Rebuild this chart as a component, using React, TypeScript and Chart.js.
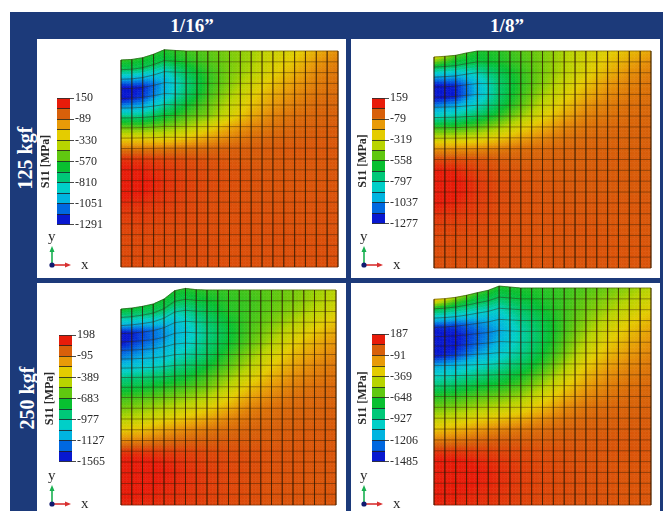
import React, { useEffect, useRef } from "react";
import { Chart, registerables } from "chart.js";

Chart.register(...registerables);

const FONT = '"Liberation Serif", serif';
const NAVY = "#1c3a7a";

// contour levels of the S11 legend, bottom (most compressive) to top
const LEVEL_COLORS = ["#0818d0", "#0068e0", "#00b4e0", "#00cfc8", "#00c878", "#08c030", "#60c810", "#b8d400", "#e4cc00", "#e89a08", "#d8600a", "#e81c0a"];

const LEGEND_125_116 = ["150", "-89", "-330", "-570", "-810", "-1051", "-1291"];
const LEGEND_125_18 = ["159", "-79", "-319", "-558", "-797", "-1037", "-1277"];
const LEGEND_250_116 = ["198", "-95", "-389", "-683", "-977", "-1127", "-1565"];
const LEGEND_250_18 = ["187", "-91", "-369", "-648", "-927", "-1206", "-1485"];

// vertical shift of the top surface at each of the 21 columns (mesh units)
const DENT_125_116 = [-0.83, -0.78, -0.62, -0.3, 0.12, 0.05, 0, 0, 0, 0, 0, 0, 0, 0, 0, 0, 0, 0, 0, 0, 0];
const DENT_125_18 = [-0.55, -0.49, -0.4, -0.18, 0, 0, 0, 0, 0, 0, 0, 0, 0, 0, 0, 0, 0, 0, 0, 0, 0];
const DENT_250_116 = [-1.77, -1.68, -1.52, -1.3, -0.84, -0.06, 0.15, 0.03, 0, 0, 0, 0, 0, 0, 0, 0, 0, 0, 0, 0, 0];
const DENT_250_18 = [-1.04, -0.98, -0.86, -0.67, -0.43, -0.21, 0.18, 0.09, 0, 0, 0, 0, 0, 0, 0, 0, 0, 0, 0, 0, 0];
// how much of that shift each of the 21 rows keeps, top to bottom
const ROW_DECAY = [1, 0.88, 0.74, 0.6, 0.47, 0.35, 0.24, 0.15, 0.08, 0.03, 0, 0, 0, 0, 0, 0, 0, 0, 0, 0, 0];

// S11 in MPa: 21 rows (top to bottom), read at every second mesh column
const S11_125_116 = [
  [-570, -600, -600, -560, -520, -470, -430, -350, -300, -200, -130],
  [-700, -680, -660, -600, -540, -480, -420, -320, -250, -150, -90],
  [-1000, -980, -880, -700, -580, -480, -400, -290, -200, -110, -70],
  [-1290, -1220, -1000, -760, -590, -470, -350, -240, -150, -90, -60],
  [-1280, -1180, -980, -730, -570, -430, -300, -190, -120, -70, -50],
  [-1020, -980, -820, -640, -520, -380, -250, -150, -90, -50, -40],
  [-720, -740, -650, -550, -480, -330, -190, -100, -60, -40, -30],
  [-500, -520, -500, -430, -330, -190, -110, -70, -40, -30, -20],
  [-300, -300, -330, -270, -180, -110, -60, -40, -30, -20, -20],
  [-90, -90, -90, -70, -50, -30, -25, -20, -15, -15, -15],
  [50, 40, 20, 5, -5, -15, -20, -20, -15, -15, -15],
  [100, 80, 45, 20, 5, -5, -10, -15, -15, -15, -15],
  [130, 105, 55, 25, 10, 0, -5, -10, -10, -10, -10],
  [120, 95, 50, 25, 10, 0, -5, -10, -10, -10, -10],
  [70, 60, 40, 20, 5, 0, -5, -5, -5, -5, -5],
  [40, 35, 25, 15, 5, 0, 0, -5, -5, -5, -5],
  [25, 25, 15, 10, 5, 0, 0, 0, -5, -5, -5],
  [15, 15, 10, 5, 5, 0, 0, 0, 0, -5, -5],
  [10, 10, 10, 5, 5, 0, 0, 0, 0, 0, 0],
  [10, 10, 5, 5, 5, 0, 0, 0, 0, 0, 0],
  [10, 10, 5, 5, 5, 5, 0, 0, 0, 0, 0],
];
const S11_125_18 = [
  [-300, -520, -600, -580, -520, -470, -400, -330, -280, -220, -170],
  [-650, -680, -640, -600, -540, -470, -390, -310, -240, -170, -110],
  [-1000, -980, -820, -680, -570, -470, -380, -290, -200, -120, -80],
  [-1270, -1200, -950, -720, -580, -460, -340, -240, -140, -90, -60],
  [-1270, -1210, -970, -720, -560, -420, -300, -190, -110, -70, -50],
  [-1040, -980, -850, -680, -520, -360, -240, -130, -80, -50, -40],
  [-830, -780, -700, -580, -430, -290, -170, -90, -60, -40, -30],
  [-560, -570, -530, -430, -300, -190, -100, -60, -40, -30, -25],
  [-360, -360, -340, -260, -170, -100, -60, -40, -30, -25, -20],
  [-130, -130, -110, -80, -50, -40, -30, -25, -20, -20, -15],
  [20, 15, 5, -10, -20, -20, -20, -20, -15, -15, -15],
  [100, 80, 30, 5, -5, -10, -15, -15, -15, -15, -15],
  [135, 115, 50, 15, 5, -5, -10, -10, -10, -10, -10],
  [145, 115, 55, 20, 5, 0, -5, -10, -10, -10, -10],
  [110, 85, 45, 20, 5, 0, -5, -5, -5, -5, -5],
  [65, 55, 35, 15, 5, 0, 0, -5, -5, -5, -5],
  [40, 35, 25, 10, 5, 0, 0, 0, -5, -5, -5],
  [25, 20, 15, 10, 5, 0, 0, 0, 0, -5, -5],
  [15, 15, 10, 5, 5, 0, 0, 0, 0, 0, 0],
  [10, 10, 10, 5, 5, 0, 0, 0, 0, 0, 0],
  [10, 10, 5, 5, 5, 5, 0, 0, 0, 0, 0],
];
const S11_250_116 = [
  [-720, -750, -740, -720, -700, -680, -650, -620, -580, -520, -460],
  [-950, -900, -820, -800, -760, -700, -670, -620, -570, -500, -430],
  [-1200, -1180, -1050, -950, -820, -720, -670, -610, -540, -460, -370],
  [-1550, -1420, -1250, -1060, -890, -760, -660, -580, -480, -380, -280],
  [-1530, -1400, -1270, -1130, -930, -780, -650, -530, -400, -290, -200],
  [-1400, -1300, -1200, -1090, -900, -760, -620, -480, -330, -220, -150],
  [-1280, -1200, -1120, -1010, -860, -700, -550, -400, -260, -170, -110],
  [-1130, -1080, -1000, -900, -780, -640, -480, -320, -200, -120, -80],
  [-950, -900, -850, -780, -680, -550, -390, -240, -140, -90, -60],
  [-820, -780, -720, -670, -600, -460, -290, -170, -100, -60, -40],
  [-680, -650, -600, -550, -480, -340, -190, -110, -60, -40, -30],
  [-580, -540, -480, -420, -340, -220, -110, -60, -40, -30, -20],
  [-470, -430, -350, -280, -200, -110, -60, -40, -25, -20, -15],
  [-330, -280, -190, -130, -80, -50, -30, -20, -15, -10, -10],
  [-130, -100, -60, -30, -20, -10, -10, -10, -5, -5, -5],
  [60, 60, 50, 40, 25, 15, 10, 5, 0, 0, 0],
  [150, 140, 110, 75, 45, 30, 20, 10, 5, 0, 0],
  [190, 165, 125, 85, 55, 35, 20, 10, 5, 0, 0],
  [165, 145, 115, 85, 55, 35, 20, 10, 5, 0, 0],
  [135, 120, 100, 75, 50, 35, 20, 10, 5, 0, 0],
  [105, 100, 85, 65, 45, 30, 20, 10, 5, 0, 0],
];
const S11_250_18 = [
  [-200, -480, -640, -680, -690, -670, -640, -610, -570, -510, -440],
  [-720, -780, -800, -790, -740, -690, -640, -580, -520, -450, -370],
  [-1050, -1060, -1020, -970, -830, -720, -640, -560, -480, -390, -310],
  [-1380, -1350, -1220, -1100, -900, -760, -640, -530, -420, -320, -240],
  [-1480, -1440, -1300, -1170, -950, -780, -630, -490, -360, -260, -180],
  [-1480, -1430, -1280, -1130, -940, -770, -600, -440, -310, -210, -140],
  [-1440, -1350, -1180, -1060, -900, -730, -560, -380, -250, -160, -110],
  [-1180, -1120, -1020, -950, -820, -670, -490, -310, -190, -120, -80],
  [-1000, -960, -880, -820, -720, -580, -410, -240, -140, -90, -60],
  [-850, -810, -740, -700, -620, -480, -320, -180, -100, -60, -40],
  [-680, -660, -610, -570, -500, -370, -220, -120, -70, -40, -30],
  [-570, -540, -490, -440, -370, -250, -130, -70, -40, -30, -20],
  [-430, -400, -330, -280, -220, -130, -70, -40, -25, -20, -15],
  [-290, -240, -160, -110, -80, -50, -30, -20, -15, -10, -10],
  [-100, -80, -40, -20, -20, -15, -10, -10, -5, -5, -5],
  [50, 50, 45, 30, 20, 10, 5, 0, 0, 0, 0],
  [140, 130, 100, 70, 40, 25, 15, 5, 0, 0, 0],
  [180, 155, 120, 85, 50, 30, 20, 10, 5, 0, 0],
  [170, 145, 115, 85, 50, 30, 20, 10, 5, 0, 0],
  [130, 115, 95, 75, 45, 30, 20, 10, 5, 0, 0],
  [100, 95, 80, 60, 40, 25, 15, 10, 5, 0, 0],
];

type PanelDef = {
  s11: number[][]; dent: number[]; legend: string[]; min: number; max: number;
  mesh: { l: number; t: number; w: number; h: number };
  bar: { l: number; t: number; h: number; titleGap: number };
  triad: { x: number; y: number; ly: number };
};

const PANELS: PanelDef[] = [
  { s11: S11_125_116, dent: DENT_125_116, legend: LEGEND_125_116, min: -1291, max: 150,
    mesh: { l: 121, t: 51, w: 217, h: 216 }, bar: { l: 57, t: 98, h: 127, titleGap: 11 }, triad: { x: 51.5, y: 265, ly: 238 } },
  { s11: S11_125_18, dent: DENT_125_18, legend: LEGEND_125_18, min: -1277, max: 159,
    mesh: { l: 434, t: 51, w: 217, h: 216.5 }, bar: { l: 372, t: 98, h: 126, titleGap: 9 }, triad: { x: 364, y: 265, ly: 238 } },
  { s11: S11_250_116, dent: DENT_250_116, legend: LEGEND_250_116, min: -1565, max: 198,
    mesh: { l: 121, t: 289.5, w: 215, h: 215 }, bar: { l: 59, t: 335, h: 127, titleGap: 9 }, triad: { x: 52, y: 504, ly: 477 } },
  { s11: S11_250_18, dent: DENT_250_18, legend: LEGEND_250_18, min: -1485, max: 187,
    mesh: { l: 434, t: 288, w: 217, h: 216.5 }, bar: { l: 372, t: 334, h: 127.5, titleGap: 9 }, triad: { x: 364, y: 504, ly: 477 } },
];

function hexRgb(h: string) {
  return [1, 3, 5].map((i) => parseInt(h.slice(i, i + 2), 16));
}
const LEVEL_RGB = LEVEL_COLORS.map(hexRgb);

function colorFor(v: number, min: number, max: number) {
  const t = Math.min(1, Math.max(0, (v - min) / (max - min)));
  const f = Math.min(LEVEL_RGB.length - 1, Math.max(0, t * LEVEL_RGB.length - 0.5));
  const i = Math.min(LEVEL_RGB.length - 2, Math.floor(f));
  const k = f - i;
  const c = LEVEL_RGB[i].map((a, n) => Math.round(a + (LEVEL_RGB[i + 1][n] - a) * k));
  return `rgb(${c[0]},${c[1]},${c[2]})`;
}

function nodeY(p: PanelDef, r: number, c: number) {
  return 20 - r + p.dent[c] * ROW_DECAY[r];
}
function valueAt(p: PanelDef, r: number, c: number) {
  const a = Math.min(9, Math.floor(c / 2));
  const k = c / 2 - a;
  return p.s11[r][a] * (1 - k) + p.s11[r][a + 1] * k;
}

function makeMesh(canvas: HTMLCanvasElement, p: PanelDef) {
  const rows = Array.from({ length: 21 }, (_, r) => r);
  const cols = Array.from({ length: 21 }, (_, c) => c);
  const lineStyle = { borderColor: "rgba(45,25,0,0.42)", borderWidth: 1, pointRadius: 0, tension: 0, fill: false, clip: false as const };
  const datasets: any[] = [
    ...rows.map((r) => ({ ...lineStyle, data: cols.map((c) => ({ x: c, y: nodeY(p, r, c) })) })),
    ...cols.map((c) => ({ ...lineStyle, data: rows.map((r) => ({ x: c, y: nodeY(p, r, c) })) })),
  ];
  const cellFill = {
    id: "cellFill",
    beforeDatasetsDraw(chart: any) {
      const { ctx, scales } = chart;
      const n = 4;
      ctx.save();
      ctx.lineWidth = 0.6;
      for (let r = 0; r < 20; r++) {
        for (let c = 0; c < 20; c++) {
          for (let a = 0; a < n; a++) {
            for (let b = 0; b < n; b++) {
              const pt = (u: number, w: number) => {
                const top = nodeY(p, r, c) * (1 - u) + nodeY(p, r, c + 1) * u;
                const bot = nodeY(p, r + 1, c) * (1 - u) + nodeY(p, r + 1, c + 1) * u;
                return [scales.x.getPixelForValue(c + u), scales.y.getPixelForValue(top * (1 - w) + bot * w)];
              };
              const u0 = a / n, u1 = (a + 1) / n, w0 = b / n, w1 = (b + 1) / n;
              const um = (u0 + u1) / 2, wm = (w0 + w1) / 2;
              const v = valueAt(p, r, c + um) * (1 - wm) + valueAt(p, r + 1, c + um) * wm;
              const col = colorFor(v, p.min, p.max);
              const q = [pt(u0, w0), pt(u1, w0), pt(u1, w1), pt(u0, w1)];
              ctx.beginPath();
              ctx.moveTo(q[0][0], q[0][1]);
              for (let i = 1; i < 4; i++) ctx.lineTo(q[i][0], q[i][1]);
              ctx.closePath();
              ctx.fillStyle = col;
              ctx.strokeStyle = col;
              ctx.fill();
              ctx.stroke();
            }
          }
        }
      }
      ctx.restore();
    },
  };
  return new Chart(canvas, {
    type: "line",
    data: { datasets },
    plugins: [cellFill],
    options: {
      animation: false, responsive: false, parsing: false,
      layout: { padding: 4 },
      plugins: { legend: { display: false }, tooltip: { enabled: false } },
      scales: {
        x: { type: "linear", display: false, min: 0, max: 20 },
        y: { type: "linear", display: false, min: 0, max: 20 },
      },
    } as any,
  });
}

function makeBar(canvas: HTMLCanvasElement, p: PanelDef) {
  const dark = "rgba(30,30,30,0.8)";
  return new Chart(canvas, {
    type: "bar",
    data: {
      labels: ["S11"],
      datasets: LEVEL_COLORS.map((color) => ({ data: [1], backgroundColor: color, barPercentage: 1, categoryPercentage: 1, yAxisID: "y" })),
    },
    options: {
      animation: false, responsive: false,
      layout: { padding: { top: 8, bottom: 8, left: 0, right: 0 } },
      plugins: { legend: { display: false }, tooltip: { enabled: false } },
      scales: {
        x: { stacked: true, display: false },
        y: {
          stacked: true, position: "right", min: 0, max: 12,
          border: { display: false },
          grid: { z: 1, color: dark, lineWidth: 1, tickLength: 4, tickColor: (c: any) => (c.tick.value % 2 === 0 ? dark : "transparent") },
          ticks: {
            stepSize: 1, autoSkip: false, padding: 1, color: "#2a2a2a", font: { family: FONT, size: 12 },
            callback: (v: any) => (v % 2 === 0 ? p.legend[(12 - v) / 2] : ""),
          },
          afterFit: (s: any) => { s.width = 45; },
        },
        yTitle: {
          position: "left", min: 0, max: 12,
          border: { display: false }, grid: { display: false }, ticks: { display: false },
          title: { display: true, text: "S11 [MPa]", color: "#2a2a2a", font: { family: FONT, size: 12, weight: "bold" }, padding: { top: 24 - p.bar.titleGap - 7.2, bottom: 0 } },
          afterFit: (s: any) => { s.width = 24; },
        },
      },
    } as any,
  });
}

function Panel({ p }: { p: PanelDef }) {
  const meshRef = useRef<HTMLCanvasElement>(null);
  const barRef = useRef<HTMLCanvasElement>(null);
  useEffect(() => {
    const a = makeMesh(meshRef.current!, p);
    const b = makeBar(barRef.current!, p);
    return () => { a.destroy(); b.destroy(); };
  }, [p]);
  const t = p.triad;
  return (
    <>
      <canvas ref={meshRef} width={p.mesh.w + 8} height={Math.round(p.mesh.h + 8)}
        style={{ position: "absolute", left: p.mesh.l - 4, top: p.mesh.t - 4 }} />
      <canvas ref={barRef} width={82} height={Math.round(p.bar.h + 16)}
        style={{ position: "absolute", left: p.bar.l - 24, top: p.bar.t - 8 }} />
      <svg width={50} height={50} style={{ position: "absolute", left: t.x - 10, top: t.y - 40, overflow: "visible" }}>
        <line x1={10} y1={40} x2={10} y2={26} stroke="#18b050" strokeWidth={1.6} />
        <polygon points="10,21 7.5,27 12.5,27" fill="#18b050" />
        <line x1={10} y1={40} x2={24} y2={40} stroke="#d83030" strokeWidth={1.6} />
        <polygon points="29,40 23,37.5 23,42.5" fill="#d83030" />
        <circle cx={10} cy={40} r={2.6} fill="#101a70" />
        <text x={29 + 10} y={44} fontFamily={FONT} fontSize={15} fill="#2a2a2a">x</text>
        <text x={6} y={t.ly - t.y + 43} fontFamily={FONT} fontSize={15} fill="#2a2a2a">y</text>
      </svg>
    </>
  );
}

const headerStyle: React.CSSProperties = {
  position: "absolute", color: "#fff", fontFamily: FONT, fontWeight: "bold", fontSize: 19, lineHeight: "20px", whiteSpace: "nowrap",
};

function Box({ l, t, w, h }: { l: number; t: number; w: number; h: number }) {
  return <div style={{ position: "absolute", left: l, top: t, width: w, height: h, background: "#fff" }} />;
}

export default function App() {
  return (
    <div style={{ position: "fixed", left: 0, top: 0, width: 665, height: 511, overflow: "hidden", background: "#fff", filter: "blur(0.75px)" }}>
      <div style={{ position: "absolute", left: 10, top: 12, width: 653, height: 499, background: NAVY }} />
      <Box l={37} t={39} w={309} h={239} />
      <Box l={351} t={39} w={309} h={239} />
      <Box l={37} t={283} w={309} h={228} />
      <Box l={351} t={283} w={309} h={228} />
      <div style={{ ...headerStyle, left: 92, width: 200, top: 16, textAlign: "center" }}>1/16”</div>
      <div style={{ ...headerStyle, left: 407, width: 200, top: 16, textAlign: "center" }}>1/8”</div>
      <div style={{ ...headerStyle, fontSize: 20, left: 25, top: 158, transform: "translate(-50%,-50%) rotate(-90deg)" }}>125 kgf</div>
      <div style={{ ...headerStyle, fontSize: 20, left: 27, top: 398, transform: "translate(-50%,-50%) rotate(-90deg)" }}>250 kgf</div>
      {PANELS.map((p, i) => <Panel key={i} p={p} />)}
    </div>
  );
}
